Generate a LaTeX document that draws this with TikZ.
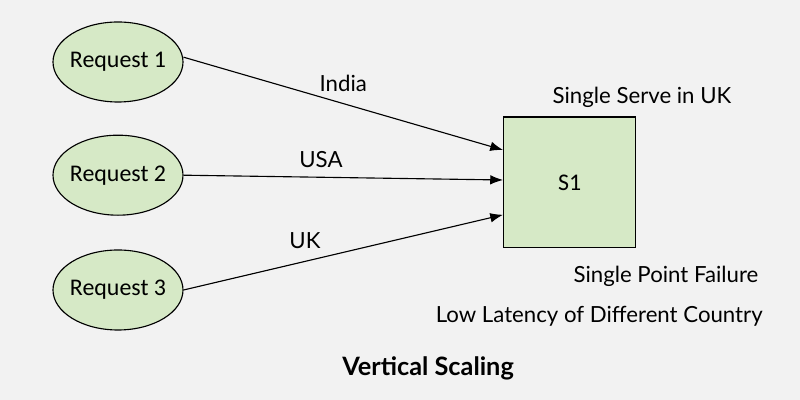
\documentclass[tikz,border=0pt]{standalone}
\usepackage{fontspec}
\setmainfont{Carlito}
\newfontfamily\labelfont{Lato}
\usetikzlibrary{shapes.geometric, arrows.meta, positioning, calc}
\definecolor{bggray}{RGB}{242,242,242}
\definecolor{softgreen}{RGB}{214,233,198}
\tikzset{
  request/.style={ellipse, draw=black, thick, fill=softgreen, minimum width=3.25cm, minimum height=2cm, inner xsep=-2pt, inner ysep=0pt, font=\fontsize{17}{19}\selectfont},
  server/.style={rectangle, draw=black, thick, fill=softgreen, minimum width=3.3cm, minimum height=3.27cm, font=\fontsize{17}{19}\selectfont},
  link/.style={thick, -{Latex[length=3.2mm, width=2.4mm]}},
  note/.style={font=\labelfont\fontsize{15.8}{18}\selectfont}
}

\begin{document}
\begin{tikzpicture}
  % background
  \fill[bggray] (0,0) rectangle (20,10);
  \useasboundingbox (0,0) rectangle (20,10);

  % requests
  \node[request] (r1) at (2.95,8.45) {Request 1};
  \node[request] (r2) at (2.95,5.62) {Request 2};
  \node[request] (r3) at (2.95,2.75) {Request 3};

  % server
  \node[server] (s1) at (14.24,5.44) {S1};

  % arrow end points on the server
  \coordinate (t1) at ($(s1.west)+(0,0.81)$);
  \coordinate (t2) at ($(s1.west)+(0,0.06)$);
  \coordinate (t3) at ($(s1.west)+(0,-0.81)$);

  % connectors
  \draw[link] ($(r1.east)+(0,0.12)$) -- (t1) node[pos=0.5, above=5pt, note] {India};
  \draw[link] (r2.east) -- (t2) node[pos=0.43, above=3pt, note] {USA};
  \draw[link] (r3.east) -- (t3) node[pos=0.38, above=5pt, note] {UK};

  % notes
  \node[note] (n1) at (16.05,7.57) {Single Serve in UK};
  \node[note] (n2) at (16.65,3.08) {Single Point Failure};
  \node[note] (n3) at (14.98,2.1) {Low Latency of Different Country};
  \node[note, font=\labelfont\bfseries\fontsize{18}{20}\selectfont] (title) at (10.7,0.8) {Vertical Scaling};
\end{tikzpicture}
\end{document}
